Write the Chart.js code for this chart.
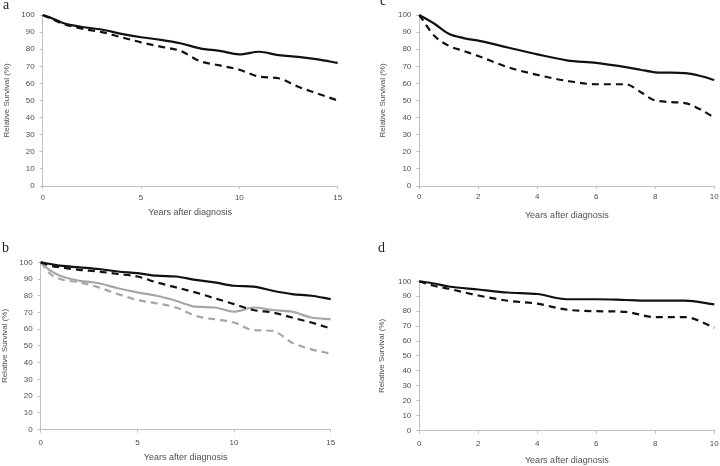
<!DOCTYPE html>
<html lang="en">
  <head>
    <meta charset="UTF-8" />
    <title>Relative survival</title>
    <script src="https://cdn.jsdelivr.net/npm/chart.js@4.4.0/dist/chart.umd.min.js"></script>
    <style>
      body { margin: 0; background: #fff; }
      #wrap { position: relative; width: 720px; height: 466px; }
      #wrap canvas { position: absolute; }
      .tag { position: absolute; font-family: 'Liberation Serif', serif; font-size: 14px; color: #222; }
    </style>
  </head>
  <body>
    <div id="wrap">
      <canvas id="chartA" style="left:0;top:0"></canvas>
      <canvas id="chartC" style="left:360px;top:0"></canvas>
      <canvas id="chartB" style="left:0;top:233px"></canvas>
      <canvas id="chartD" style="left:360px;top:233px"></canvas>
      <div class="tag" style="left:3px;top:-3px">a</div>
      <div class="tag" style="left:380px;top:-7px">c</div>
      <div class="tag" style="left:2px;top:240px">b</div>
      <div class="tag" style="left:378px;top:240px">d</div>
    </div>

    <script>
      // values
      const yearsA = [0, 0.5, 1, 2, 3, 4, 5, 6, 7, 8, 9, 10, 11, 12, 13, 14, 15];
      const solidA = [100, 98, 95.5, 93, 91.5, 89, 87, 85.5, 83.5, 80.5, 79, 77, 78.5, 76.5, 75.5, 74, 72];
      const dashA = [100, 97.5, 95, 92, 90, 87, 84, 81.5, 79, 73, 70.5, 68, 64, 63, 58, 54, 50];

      const yearsB = [0, 0.5, 1, 2, 3, 4, 5, 6, 7, 8, 9, 10, 11, 12, 13, 14, 15];
      const solidB = [100, 99, 98, 97, 96, 94.5, 93.5, 92, 91.5, 89.5, 88, 86, 85.5, 83, 81, 80, 78];
      const dashB = [100, 98, 97, 95.5, 94.5, 93, 91.5, 88, 85, 82, 78.5, 75, 71.5, 70, 67, 64, 60.5];
      const greySolidB = [100, 95, 92, 89, 87.5, 84.5, 82, 80, 77, 73.5, 73, 70.5, 73, 71.5, 70.5, 67, 66];
      const greyDashB = [100, 93, 90, 88, 85, 81, 77.5, 75.5, 73, 68, 66, 64, 59.5, 59, 52, 48, 45.5];

      const yearsC = [0, 0.5, 1, 1.5, 2, 3, 4, 5, 6, 7, 7.5, 8, 9, 9.5, 10];
      const solidC = [100, 95, 89, 86.5, 85, 81, 77, 73.5, 72, 69.5, 68, 66.5, 66, 64.5, 62];
      const dashC = [100, 88, 82, 79, 76, 69.5, 65, 61.5, 59.5, 59.5, 55, 50, 48.5, 45, 40];

      const yearsD = [0, 0.5, 1, 2, 3, 4, 5, 6, 7, 8, 9, 10];
      const solidD = [100, 98.5, 96.5, 94.5, 92.5, 91.5, 88, 88, 87.5, 87, 87, 84.5];
      const dashD = [100, 97, 95, 90.5, 87, 85, 81, 80, 79.5, 76, 76, 69];

      const axisGrey = '#bfbfbf';
      const textGrey = '#505050';
      const font = 'Liberation Sans';

      function pts(xs, ys) {
        return xs.map((x, i) => ({ x: x, y: ys[i] }));
      }

      function line(xs, ys, colour, dashed) {
        return {
          data: pts(xs, ys),
          borderColor: colour,
          borderWidth: 2.2,
          borderDash: dashed ? [7, 5] : [],
          pointRadius: 0,
          cubicInterpolationMode: 'monotone',
          fill: false,
          clip: false
        };
      }

      // p: canvas size and wanted plot box inside it
      function panel(id, p, datasets) {
        const cv = document.getElementById(id);
        cv.width = p.w;
        cv.height = p.h;
        cv.style.width = p.w + 'px';
        cv.style.height = p.h + 'px';
        return new Chart(cv, {
          type: 'line',
          data: { datasets: datasets },
          options: {
            responsive: false,
            animation: false,
            devicePixelRatio: 1,
            layout: { padding: { left: 0, top: p.top, right: p.w - p.right, bottom: 0 } },
            plugins: { legend: { display: false }, tooltip: { enabled: false } },
            scales: {
              x: {
                type: 'linear',
                min: 0,
                max: p.xmax,
                ticks: { stepSize: p.xstep, color: textGrey, font: { family: font, size: 8 }, padding: p.xpad, maxRotation: 0 },
                grid: { drawOnChartArea: false, drawTicks: true, tickLength: 3, color: axisGrey },
                border: { color: axisGrey, width: 1 },
                title: { display: true, text: 'Years after diagnosis', color: textGrey,
                  font: { family: font, size: 9 }, padding: { top: 0, bottom: p.xtitle } },
                afterFit: s => { s.height = p.h - p.bottom; s.paddingLeft = 0; s.paddingRight = 0; }
              },
              y: {
                min: 0,
                max: 100,
                ticks: { stepSize: 10, color: textGrey, font: { family: font, size: 8 }, padding: 5 },
                grid: { drawOnChartArea: false, drawTicks: true, tickLength: 3, color: axisGrey },
                border: { color: axisGrey, width: 1 },
                title: { display: true, text: 'Relative Survival (%)', color: textGrey,
                  font: { family: font, size: 8 }, padding: { top: p.ytitle, bottom: 0 } },
                afterFit: s => { s.width = p.left; s.paddingTop = 0; s.paddingBottom = 0; }
              }
            }
          }
        });
      }

      const black = '#111';
      const grey = '#a6a6a6';

      panel('chartA', { w: 360, h: 233, left: 42.7, top: 15, right: 337.7, bottom: 186, xmax: 15, xstep: 5, xpad: 4, xtitle: 14.6, ytitle: 2.2 },
        [line(yearsA, solidA, black, false), line(yearsA, dashA, black, true)]);

      panel('chartC', { w: 360, h: 233, left: 59.3, top: 15, right: 354.3, bottom: 186, xmax: 10, xstep: 2, xpad: 2.5, xtitle: 11.6, ytitle: 18.2 },
        [line(yearsC, solidC, black, false), line(yearsC, dashC, black, true)]);

      panel('chartB', { w: 360, h: 233, left: 40.7, top: 29.3, right: 330.7, bottom: 196.7, xmax: 15, xstep: 5, xpad: 5.5, xtitle: 2.6, ytitle: 0 },
        [line(yearsB, solidB, black, false), line(yearsB, dashB, black, true),
         line(yearsB, greySolidB, grey, false), line(yearsB, greyDashB, grey, true)]);

      panel('chartD', { w: 360, h: 233, left: 59.3, top: 48.3, right: 354.3, bottom: 197.7, xmax: 10, xstep: 2, xpad: 5, xtitle: 0, ytitle: 16.9 },
        [line(yearsD, solidD, black, false), line(yearsD, dashD, black, true)]);
    </script>
  </body>
</html>
